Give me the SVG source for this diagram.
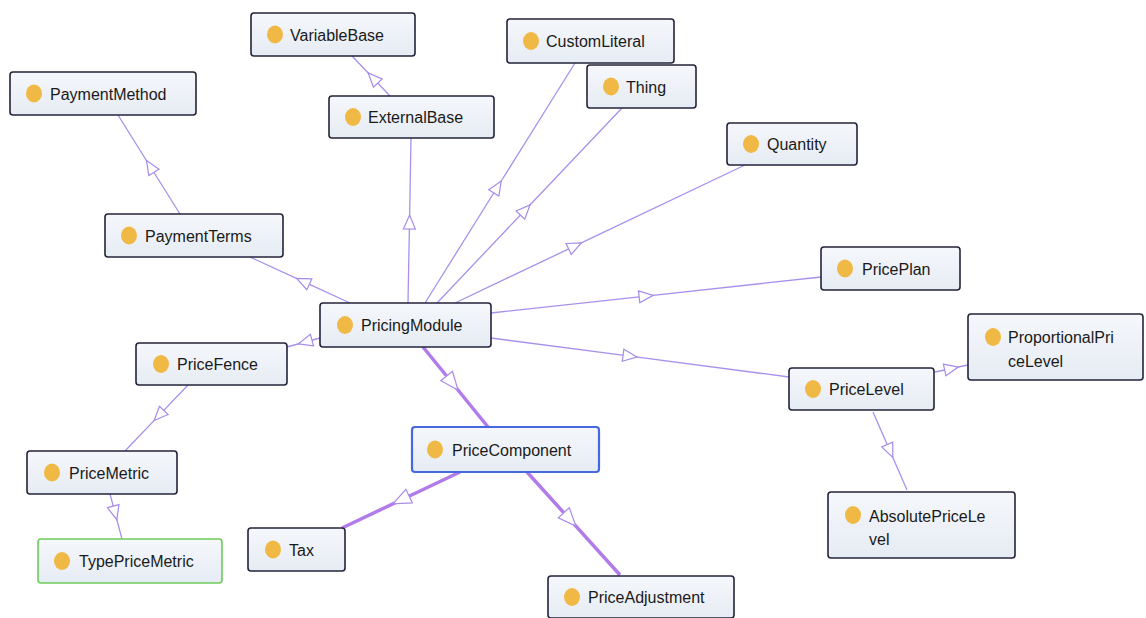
<svg xmlns="http://www.w3.org/2000/svg" width="1146" height="618" viewBox="0 0 1146 618">
  <defs>
    <linearGradient id="nodeFill" x1="0" y1="0" x2="0" y2="1">
      <stop offset="0" stop-color="#F5F7FB"/>
      <stop offset="1" stop-color="#E6ECF4"/>
    </linearGradient>
    <!-- hollow triangle placed at the middle of each subclass link -->
    <marker id="tri" markerUnits="userSpaceOnUse" markerWidth="16" markerHeight="14" refX="7" refY="6" orient="auto" overflow="visible">
      <path d="M0,0 L14,6 L0,12 Z" fill="#FFFFFF" stroke="#A58BEA" stroke-width="1.2"/>
    </marker>
    <marker id="triBig" markerUnits="userSpaceOnUse" markerWidth="20" markerHeight="18" refX="9" refY="7.5" orient="auto" overflow="visible">
      <path d="M0,0 L18,7.5 L0,15 Z" fill="#FFFFFF" stroke="#A98BEA" stroke-width="1.2"/>
    </marker>
  </defs>
  <style>
    .edge { fill: none; stroke: #A890EC; stroke-width: 1.3; marker-mid: url(#tri); }
    .edge.thick { stroke: #B27BEA; stroke-width: 3.5; marker-mid: url(#triBig); }
    .box { fill: url(#nodeFill); stroke: #23233A; stroke-width: 1.6; }
    .box.sel { stroke: #4868E0; stroke-width: 2.2; }
    .box.leaf { stroke: #6CCB5A; stroke-width: 1.6; }
    .dot { fill: #F0B844; }
    .lbl { font-family: "Liberation Sans", Arial, sans-serif; font-size: 16px; fill: #1A1A1A; }
  </style>
  <rect width="1146" height="618" fill="#FFFFFF"/>

  <g id="connectors">
    <path class="edge" d="M390,96 L373,78 L352,56"/>
    <path class="edge" d="M408,303 L409.5,222 L411,138"/>
    <path class="edge" d="M425,303 L497.5,187 L575,63"/>
    <path class="edge" d="M437,303 L525.2,210 L622,108"/>
    <path class="edge" d="M455,303 L575,245.9 L745,165"/>
    <path class="edge" d="M350,303 L303,281.4 L250,257"/>
    <path class="edge" d="M180,214 L150.2,166.5 L118,115"/>
    <path class="edge" d="M491,313 L646.1,296.1 L821,277"/>
    <path class="edge" d="M491,338 L630,356.2 L789,377"/>
    <path class="edge" d="M320,338 L305.2,342 L287,347"/>
    <path class="edge" d="M188,385 L159,415.4 L125,451"/>
    <path class="edge" d="M110,494 L115,512.9 L122,539"/>
    <path class="edge thick" d="M423,347 L452.3,383 L488,427"/>
    <path class="edge thick" d="M460,472 L401,500 L342,528"/>
    <path class="edge thick" d="M527,472 L569.8,519.4 L620,575"/>
    <path class="edge" d="M935,372 L951.5,368.5 L968,365"/>
    <path class="edge" d="M873,412 L890,451 L907,490"/>
  </g>

  <g id="VariableBase">
    <rect class="box" x="251" y="13" width="164" height="43" rx="3"/>
    <ellipse class="dot" cx="275" cy="34.5" rx="8" ry="9"/>
    <text class="lbl" x="290" y="40.5">VariableBase</text>
  </g>
  <g id="CustomLiteral">
    <rect class="box" x="507" y="19" width="167" height="44" rx="3"/>
    <ellipse class="dot" cx="531" cy="41" rx="8" ry="9"/>
    <text class="lbl" x="546" y="47">CustomLiteral</text>
  </g>
  <g id="Thing">
    <rect class="box" x="587" y="65" width="109" height="43" rx="3"/>
    <ellipse class="dot" cx="611" cy="86.5" rx="8" ry="9"/>
    <text class="lbl" x="626" y="92.5">Thing</text>
  </g>
  <g id="ExternalBase">
    <rect class="box" x="329" y="96" width="165" height="42" rx="3"/>
    <ellipse class="dot" cx="353" cy="117" rx="8" ry="9"/>
    <text class="lbl" x="368" y="123">ExternalBase</text>
  </g>
  <g id="PaymentMethod">
    <rect class="box" x="10" y="72" width="186" height="43" rx="3"/>
    <ellipse class="dot" cx="34" cy="93.5" rx="8" ry="9"/>
    <text class="lbl" x="50" y="99.5">PaymentMethod</text>
  </g>
  <g id="Quantity">
    <rect class="box" x="727" y="123" width="130" height="42" rx="3"/>
    <ellipse class="dot" cx="751" cy="144" rx="8" ry="9"/>
    <text class="lbl" x="767" y="150">Quantity</text>
  </g>
  <g id="PaymentTerms">
    <rect class="box" x="105" y="214" width="178" height="43" rx="3"/>
    <ellipse class="dot" cx="129" cy="235.5" rx="8" ry="9"/>
    <text class="lbl" x="145" y="241.5">PaymentTerms</text>
  </g>
  <g id="PricePlan">
    <rect class="box" x="821" y="247" width="139" height="43" rx="3"/>
    <ellipse class="dot" cx="845" cy="268.5" rx="8" ry="9"/>
    <text class="lbl" x="862" y="274.5">PricePlan</text>
  </g>
  <g id="PricingModule">
    <rect class="box" x="320" y="303" width="171" height="44" rx="3"/>
    <ellipse class="dot" cx="345" cy="325" rx="8" ry="9"/>
    <text class="lbl" x="361" y="331">PricingModule</text>
  </g>
  <g id="PriceFence">
    <rect class="box" x="136" y="343" width="151" height="42" rx="3"/>
    <ellipse class="dot" cx="161" cy="364" rx="8" ry="9"/>
    <text class="lbl" x="177" y="370">PriceFence</text>
  </g>
  <g id="ProportionalPriceLevel">
    <rect class="box" x="968" y="314" width="175" height="66" rx="3"/>
    <ellipse class="dot" cx="993" cy="337" rx="8" ry="9"/>
    <text class="lbl" x="1008" y="343">ProportionalPri</text>
    <text class="lbl" x="1008" y="367">ceLevel</text>
  </g>
  <g id="PriceLevel">
    <rect class="box" x="789" y="368" width="145" height="42" rx="3"/>
    <ellipse class="dot" cx="813" cy="389" rx="8" ry="9"/>
    <text class="lbl" x="829" y="395">PriceLevel</text>
  </g>
  <g id="PriceComponent">
    <rect class="box sel" x="412" y="427" width="187" height="45" rx="3"/>
    <ellipse class="dot" cx="435" cy="449.5" rx="8" ry="9"/>
    <text class="lbl" x="452" y="455.5">PriceComponent</text>
  </g>
  <g id="PriceMetric">
    <rect class="box" x="27" y="451" width="150" height="43" rx="3"/>
    <ellipse class="dot" cx="52" cy="472.5" rx="8" ry="9"/>
    <text class="lbl" x="69" y="478.5">PriceMetric</text>
  </g>
  <g id="AbsolutePriceLevel">
    <rect class="box" x="828" y="492" width="187" height="66" rx="3"/>
    <ellipse class="dot" cx="853" cy="515" rx="8" ry="9"/>
    <text class="lbl" x="869" y="522">AbsolutePriceLe</text>
    <text class="lbl" x="869" y="545">vel</text>
  </g>
  <g id="Tax">
    <rect class="box" x="248" y="528" width="97" height="43" rx="3"/>
    <ellipse class="dot" cx="273" cy="549.5" rx="8" ry="9"/>
    <text class="lbl" x="289" y="555.5">Tax</text>
  </g>
  <g id="TypePriceMetric">
    <rect class="box leaf" x="38" y="539" width="184" height="44" rx="3"/>
    <ellipse class="dot" cx="62" cy="561" rx="8" ry="9"/>
    <text class="lbl" x="79" y="567">TypePriceMetric</text>
  </g>
  <g id="PriceAdjustment">
    <rect class="box" x="548" y="576" width="186" height="42" rx="3"/>
    <ellipse class="dot" cx="572" cy="597" rx="8" ry="9"/>
    <text class="lbl" x="588" y="603">PriceAdjustment</text>
  </g>
</svg>
